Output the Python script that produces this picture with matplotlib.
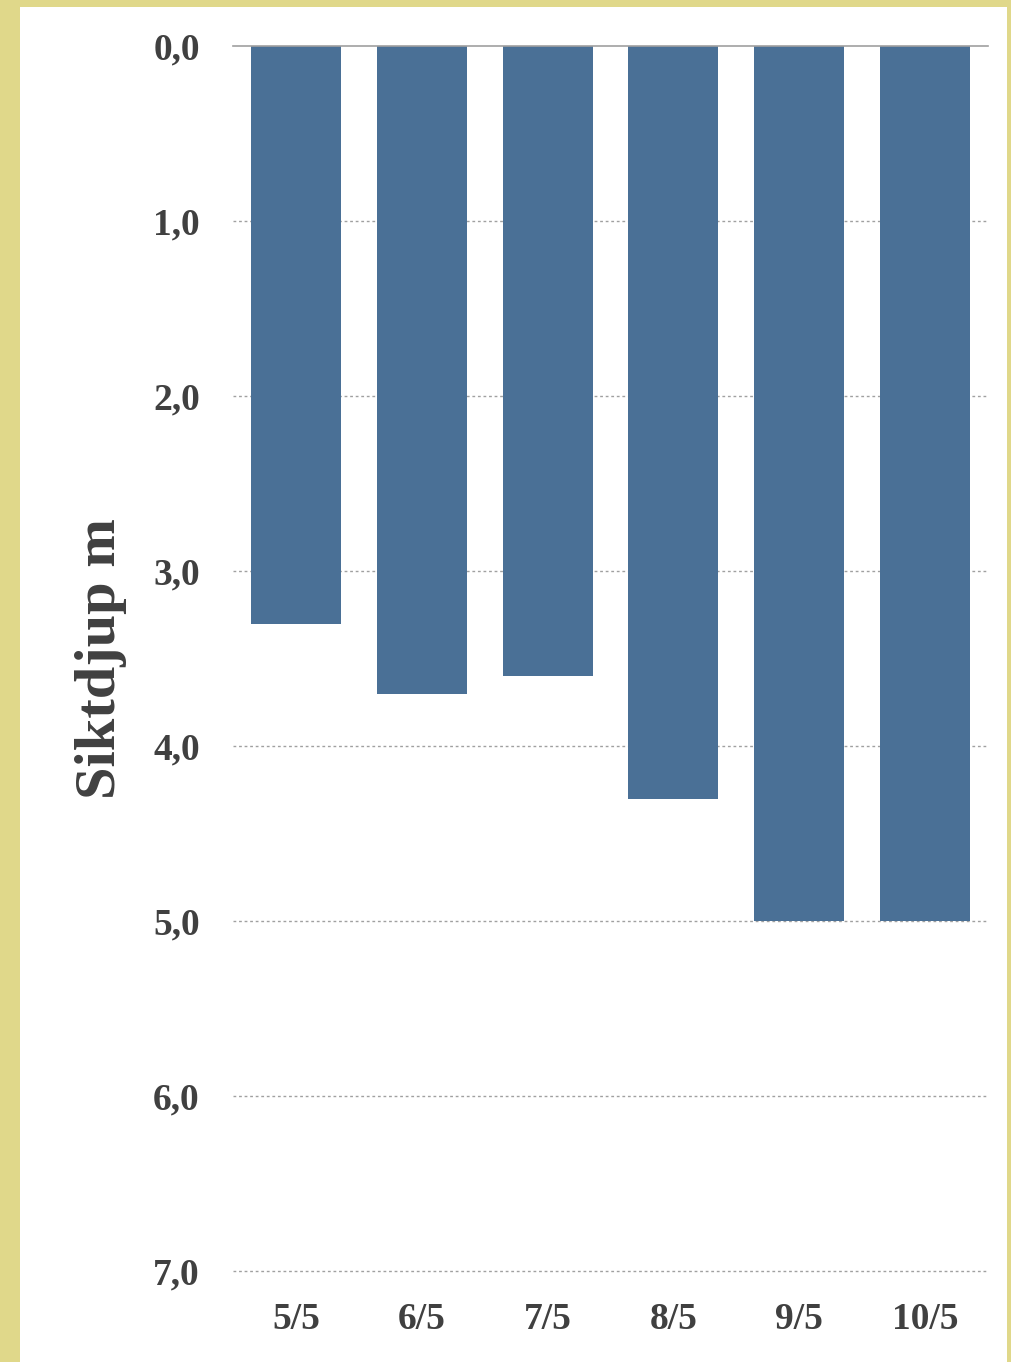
"""
Siktdjup per dag, stapeldiagram med inverterad y-axel.
Output: out.png
"""
import matplotlib.pyplot as plt

datum = ["5/5", "6/5", "7/5", "8/5", "9/5", "10/5"]
siktdjup = [3.3, 3.7, 3.6, 4.3, 5.0, 5.0]
y_ticks = [0, 1, 2, 3, 4, 5, 6, 7]
y_labels = ["0,0", "1,0", "2,0", "3,0", "4,0", "5,0", "6,0", "7,0"]

BAR = "#4a7096"
TEXT = "#404040"
FONT = "Liberation Serif"

fig = plt.figure(figsize=(10.11, 13.62), dpi=100, facecolor="#e0d88a")

# vit panel bakom diagrammet
bg = fig.add_axes([0.0198, 0.0, 0.9763, 0.9949], zorder=-1)
bg.axis("off")
bg.add_patch(plt.Rectangle((0, 0), 1, 1, transform=bg.transAxes,
                           facecolor="white", edgecolor="none"))

ax = fig.add_axes([0.2305, 0.0668, 0.7468, 0.8994])
ax.set_facecolor("none")
x = range(len(datum))
ax.bar(x, siktdjup, width=0.715, color=BAR, zorder=3)

ax.set_xlim(-0.5, len(datum) - 0.5)
ax.set_ylim(7, 0)
ax.set_yticks(y_ticks)
ax.set_yticklabels(y_labels)
ax.set_xticks(list(x))
ax.set_xticklabels(datum)

for y in y_ticks[1:]:
    ax.axhline(y, color="#a0a0a0", lw=1, ls=(0, (2, 2)), zorder=1, clip_on=False)

for s in ("left", "right", "bottom"):
    ax.spines[s].set_visible(False)
ax.spines["top"].set_color("#a0a0a0")
ax.spines["top"].set_linewidth(1.2)
ax.spines["top"].set_zorder(4)

ax.tick_params(axis="y", length=0, pad=24)
ax.tick_params(axis="x", length=0, pad=22)
for lbl in ax.get_yticklabels() + ax.get_xticklabels():
    lbl.set_fontfamily(FONT)
    lbl.set_fontweight("bold")
    lbl.set_fontsize(27)
    lbl.set_color(TEXT)

ax.set_ylabel("Siktdjup m", fontfamily=FONT, fontweight="bold", fontsize=42,
              color=TEXT)
ax.yaxis.set_label_coords(-0.141, 0.5)

fig.savefig("out.png", dpi=100, facecolor=fig.get_facecolor())
